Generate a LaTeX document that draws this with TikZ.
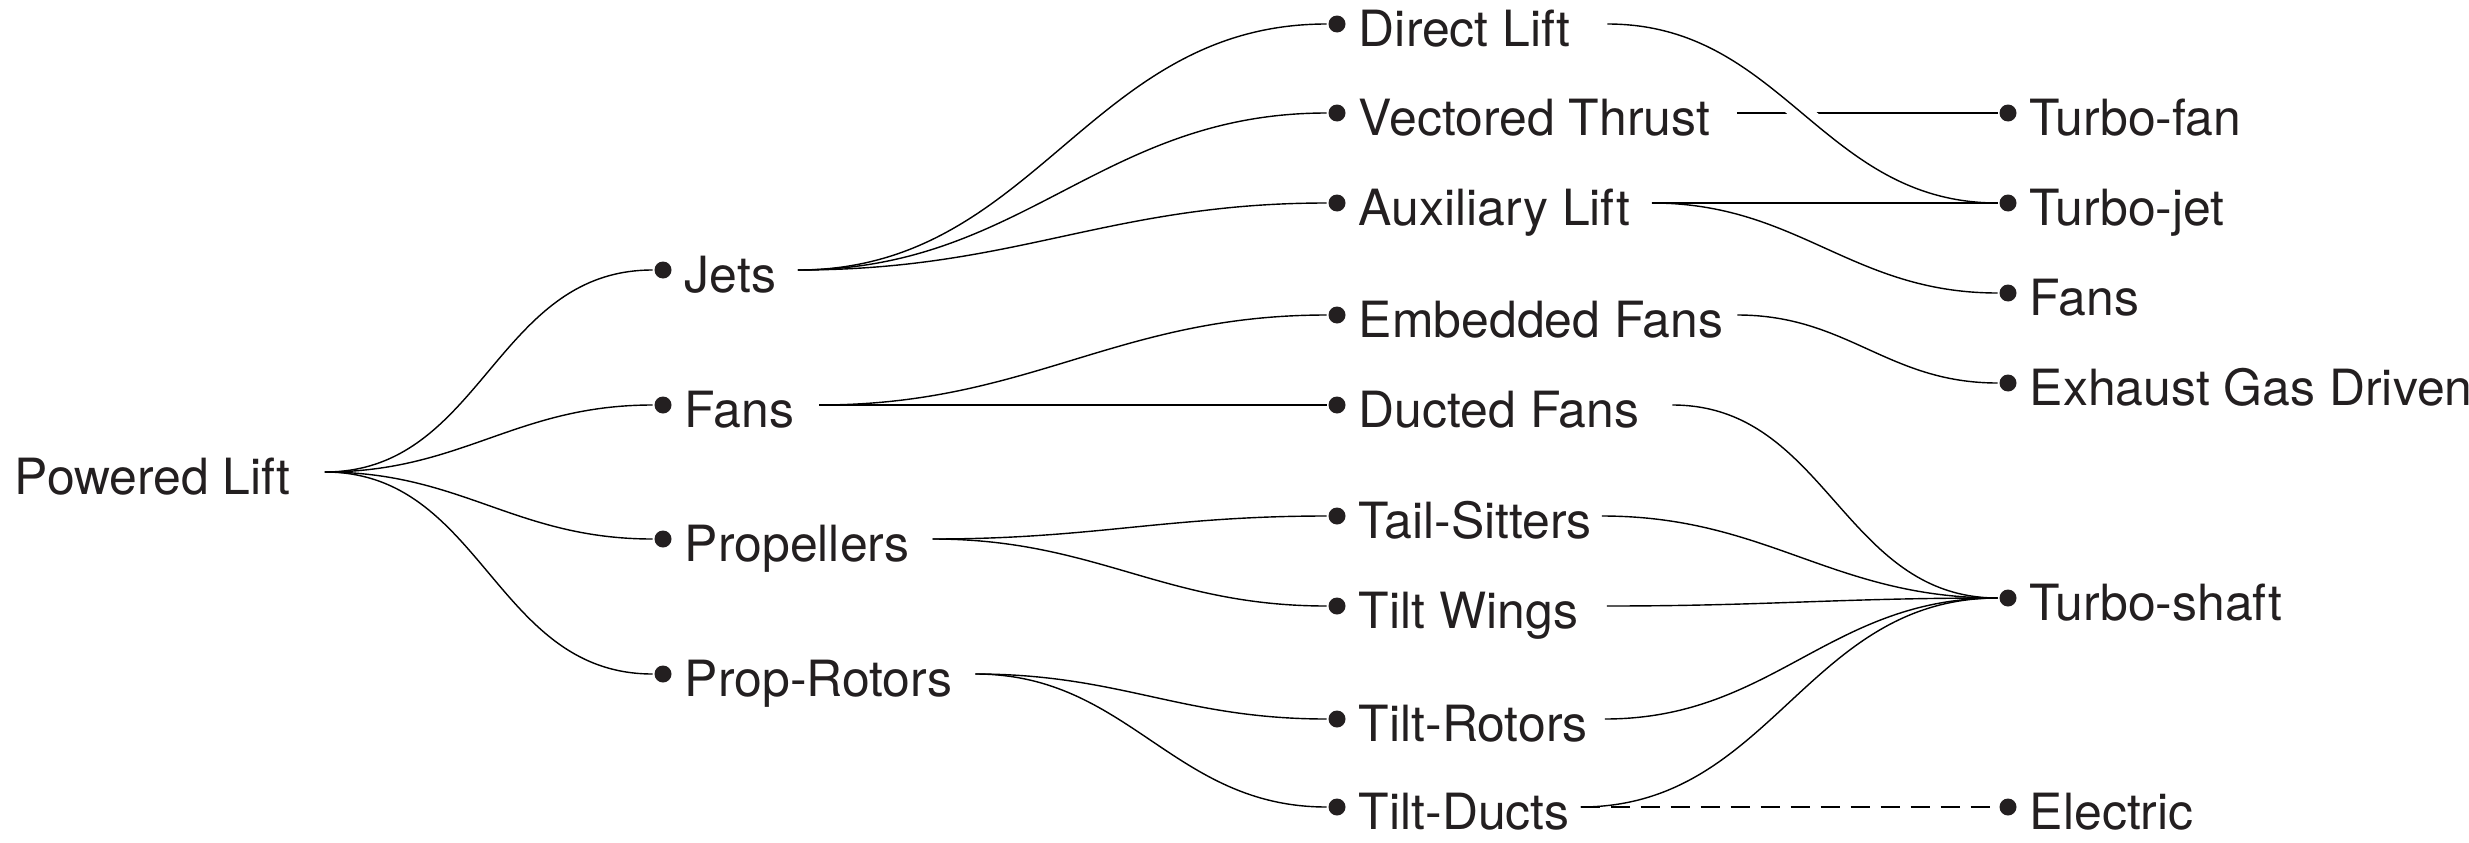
\documentclass[tikz,border=0pt]{standalone}
\usepackage{fontspec}
\setmainfont{TeX Gyre Heros}
\usetikzlibrary{positioning}
\usetikzlibrary{backgrounds}
\definecolor{ink}{HTML}{231F20}
\pgfdeclarelayer{links}
\pgfsetlayers{links,main}
\tikzset{pxp/.style={
  x=0.1mm,
  y=-0.1mm
}}
\tikzset{dot/.style={
  shape=circle,
  fill=ink,
  inner sep=0pt,
  minimum size=1.7mm,
}}
\tikzset{lbl/.style={
  inner sep=0pt,
  anchor=west,
  text height=4.4mm,
  text depth=0pt,
  font=\fontsize{14.2}{17}\selectfont,
}}
\tikzset{lnk/.style={
  out=0,
  in=180,
  looseness=1.05
}}
\tikzset{halo/.style={
  preaction={draw=white,line width=2mm}
}}
\tikzset{elink/.style={
  dash pattern=on 1.9mm off 1.1mm
}}
% dot, label and the point where its outgoing lines start
\newcommand{\branch}[4]{
  \node[dot] (#1) at (#2) {};
  \node[lbl,right=2mm of #1.center] (#1-l) {#3};
  \coordinate[right=#4 of #1-l] (#1-o);
}

\begin{document}
\begin{tikzpicture}[pxp,color=ink,line width=1.1pt]
    \useasboundingbox (0,0) rectangle (2469,842);

    %% Root
    \node[lbl] (pl) at (13,472) {Powered Lift};
    \coordinate[right=3.2mm of pl] (pl-o);

    %% Kinds of lift
    \branch{jets}{663,270}{Jets}{2mm}
    \branch{fans}{663,405}{Fans}{2.3mm}
    \branch{props}{663,539}{Propellers}{2.1mm}
    \branch{prot}{663,674}{Prop-Rotors}{2.1mm}

    %% Configurations
    \branch{dl}{1337,24}{Direct Lift}{3.5mm}
    \branch{vt}{1337,113}{Vectored Thrust}{2.5mm}
    \branch{al}{1337,203}{Auxiliary Lift}{2mm}
    \branch{ef}{1337,315}{Embedded Fans}{1.2mm}
    \branch{df}{1337,405}{Ducted Fans}{3.1mm}
    \branch{ts}{1337,516}{Tail-Sitters}{0.8mm}
    \branch{tw}{1337,606}{Tilt Wings}{2.7mm}
    \branch{tr}{1337,719}{Tilt-Rotors}{1.5mm}
    \branch{td}{1337,807}{Tilt-Ducts}{0.9mm}

    %% Engines
    \branch{tfan}{2008,113}{Turbo-fan}{0mm}
    \branch{tjet}{2008,203}{Turbo-jet}{0mm}
    \branch{fan3}{2008,293}{Fans}{0mm}
    \branch{egd}{2008,383}{Exhaust Gas Driven}{0mm}
    \branch{tsh}{2008,598}{Turbo-shaft}{0mm}
    \branch{el}{2008,807}{Electric}{0mm}

    \begin{pgfonlayer}{links}
      % Root to kinds
      \draw (pl-o) to[lnk] (jets);
      \draw (pl-o) to[lnk] (fans);
      \draw (pl-o) to[lnk] (props);
      \draw (pl-o) to[lnk] (prot);

      % Kinds to configurations
      \draw (jets-o) to[lnk] (dl);
      \draw (jets-o) to[lnk] (vt);
      \draw (jets-o) to[lnk] (al);
      \draw (fans-o) to[lnk] (ef);
      \draw (fans-o) -- (df);
      \draw (props-o) to[lnk] (ts);
      \draw (props-o) to[lnk] (tw);
      \draw (prot-o) to[lnk] (tr);
      \draw (prot-o) to[lnk] (td);

      % Configurations to engines
      \draw (vt-o) -- (tfan);
      \draw[halo] (dl-o) to[lnk] (tjet);
      \draw (al-o) -- (tjet);
      \draw (al-o) to[lnk] (fan3);
      \draw (ef-o) to[lnk] (egd);
      \draw (df-o) to[lnk] (tsh);
      \draw (ts-o) to[lnk] (tsh);
      \draw (tw-o) to[lnk] (tsh);
      \draw (tr-o) to[lnk] (tsh);
      \draw (td-o) to[lnk] (tsh);
      \draw[elink] (td-o) -- (el);
    \end{pgfonlayer}

  \end{tikzpicture}
\end{document}
